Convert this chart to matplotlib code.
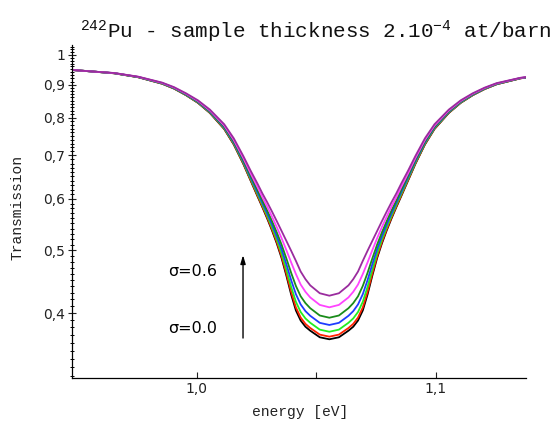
import matplotlib
matplotlib.use("Agg")
import matplotlib.pyplot as plt
from matplotlib.ticker import FixedLocator, FixedFormatter, NullFormatter

# ---- data ----
energy = [0.948, 0.9555, 0.9655, 0.9755, 0.9855, 0.9905, 0.9955, 1.0005, 1.0055, 1.0115,
          1.0155, 1.0195, 1.0225, 1.0255, 1.0275, 1.0295, 1.0315, 1.0335, 1.0355, 1.0375,
          1.0395, 1.0415, 1.0435, 1.0455, 1.0475, 1.0515,
          1.0555,
          1.0595, 1.0635, 1.0655, 1.0675, 1.0695, 1.0715, 1.0735, 1.0755, 1.0775, 1.0795,
          1.0815, 1.0835, 1.0855, 1.0885, 1.0915, 1.0955, 1.0995, 1.1055, 1.1105, 1.1155,
          1.1205, 1.1255, 1.1355, 1.1378]

t_sigma_00 = [0.948, 0.9435, 0.937, 0.924, 0.903, 0.8875, 0.867, 0.8437, 0.8139, 0.7687,
              0.7276, 0.6791, 0.6408, 0.6047, 0.5821, 0.5594, 0.5363, 0.5122, 0.4863, 0.4570,
              0.4274, 0.4037, 0.3895, 0.3810, 0.3757, 0.3670,
              0.3644,
              0.3670, 0.3757, 0.3810, 0.3895, 0.4037, 0.4274, 0.4570, 0.4863, 0.5122, 0.5363,
              0.5594, 0.5821, 0.6047, 0.6408, 0.6791, 0.7276, 0.7687, 0.8139, 0.8437, 0.8668,
              0.8860, 0.9012, 0.9204, 0.9226]
t_sigma_01 = [0.948, 0.9435, 0.937, 0.924, 0.903, 0.8875, 0.8672, 0.8441, 0.8145, 0.7695,
              0.7285, 0.6803, 0.6421, 0.6063, 0.5838, 0.5614, 0.5384, 0.5146, 0.4891, 0.4604,
              0.4314, 0.4080, 0.3936, 0.3849, 0.3793, 0.3705,
              0.3678,
              0.3705, 0.3793, 0.3849, 0.3936, 0.4080, 0.4314, 0.4604, 0.4891, 0.5146, 0.5384,
              0.5614, 0.5838, 0.6063, 0.6421, 0.6803, 0.7285, 0.7695, 0.8145, 0.8441, 0.8672,
              0.8860, 0.9012, 0.9204, 0.9226]
t_sigma_02 = [0.948, 0.9435, 0.9371, 0.9243, 0.9036, 0.8883, 0.8678, 0.8450, 0.8156, 0.7710,
              0.7304, 0.6824, 0.6447, 0.6095, 0.5871, 0.5650, 0.5426, 0.5193, 0.4945, 0.4669,
              0.4391, 0.4163, 0.4015, 0.3924, 0.3864, 0.3771,
              0.3743,
              0.3771, 0.3864, 0.3924, 0.4015, 0.4163, 0.4391, 0.4669, 0.4945, 0.5193, 0.5426,
              0.5650, 0.5871, 0.6095, 0.6447, 0.6824, 0.7304, 0.7710, 0.8156, 0.8450, 0.8678,
              0.8868, 0.9018, 0.9208, 0.9230]
t_sigma_03 = [0.948, 0.9435, 0.9373, 0.9246, 0.9042, 0.8889, 0.8688, 0.8462, 0.8171, 0.7730,
              0.7328, 0.6853, 0.6482, 0.6137, 0.5915, 0.5701, 0.5482, 0.5256, 0.5019, 0.4758,
              0.4497, 0.4277, 0.4124, 0.4027, 0.3961, 0.3863,
              0.3834,
              0.3863, 0.3961, 0.4027, 0.4124, 0.4277, 0.4497, 0.4758, 0.5019, 0.5256, 0.5482,
              0.5701, 0.5915, 0.6137, 0.6482, 0.6853, 0.7328, 0.7730, 0.8171, 0.8462, 0.8688,
              0.8874, 0.9024, 0.9210, 0.9232]
t_sigma_04 = [0.948, 0.9435, 0.9375, 0.9249, 0.9048, 0.8897, 0.8698, 0.8475, 0.8188, 0.7752,
              0.7355, 0.6886, 0.6520, 0.6183, 0.5964, 0.5757, 0.5544, 0.5326, 0.5100, 0.4857,
              0.4615, 0.4404, 0.4245, 0.4143, 0.4069, 0.3965,
              0.3934,
              0.3965, 0.4069, 0.4143, 0.4245, 0.4404, 0.4615, 0.4857, 0.5100, 0.5326, 0.5544,
              0.5757, 0.5964, 0.6183, 0.6520, 0.6886, 0.7355, 0.7752, 0.8188, 0.8475, 0.8698,
              0.8882, 0.9030, 0.9213, 0.9235]
t_sigma_05 = [0.948, 0.9435, 0.9377, 0.9254, 0.9056, 0.8908, 0.8713, 0.8493, 0.8211, 0.7784,
              0.7395, 0.6932, 0.6575, 0.6250, 0.6034, 0.5837, 0.5633, 0.5428, 0.5218, 0.5002,
              0.4789, 0.4594, 0.4426, 0.4313, 0.4228, 0.4117,
              0.4082,
              0.4117, 0.4228, 0.4313, 0.4426, 0.4594, 0.4789, 0.5002, 0.5218, 0.5428, 0.5633,
              0.5837, 0.6034, 0.6250, 0.6575, 0.6932, 0.7395, 0.7784, 0.8211, 0.8493, 0.8713,
              0.8893, 0.9038, 0.9218, 0.9240]
t_sigma_06 = [0.948, 0.9435, 0.9379, 0.9258, 0.9066, 0.8920, 0.8728, 0.8513, 0.8237, 0.7819,
              0.7438, 0.6984, 0.6637, 0.6325, 0.6114, 0.5927, 0.5735, 0.5543, 0.5353, 0.5169,
              0.4991, 0.4814, 0.4635, 0.4511, 0.4413, 0.4291,
              0.4254,
              0.4291, 0.4413, 0.4511, 0.4635, 0.4814, 0.4991, 0.5169, 0.5353, 0.5543, 0.5735,
              0.5927, 0.6114, 0.6325, 0.6637, 0.6984, 0.7438, 0.7819, 0.8237, 0.8513, 0.8728,
              0.8905, 0.9048, 0.9222, 0.9244]

series = [t_sigma_00, t_sigma_01, t_sigma_02, t_sigma_03, t_sigma_04, t_sigma_05, t_sigma_06]
colors = ["#000000", "#ff2200", "#22ee22", "#1f3cff", "#1a8c1a", "#ff44ff", "#9a2c9e"]

y_major = [0.4, 0.5, 0.6, 0.7, 0.8, 0.9, 1.0]
y_major_labels = ["0,4", "0,5", "0,6", "0,7", "0,8", "0,9", "1"]
x_major = [1.0, 1.05, 1.1]
x_major_labels = ["1,0", "", "1,1"]

title_text = r"$^{242}$Pu - sample thickness 2.10$^{-4}$ at/barn"

# ---- figure ----
plt.rcParams["mathtext.fontset"] = "custom"
plt.rcParams["mathtext.rm"] = "Liberation Mono"
plt.rcParams["mathtext.it"] = "Liberation Mono"
plt.rcParams["mathtext.default"] = "rm"

fig = plt.figure(figsize=(5.58, 4.28), dpi=100)
ax = fig.add_axes([72 / 558, 1 - 378 / 428, (526 - 72) / 558, (378 - 45) / 428])

for vals, col in zip(series, colors):
    ax.plot(energy, vals, color=col, lw=1.3, solid_joinstyle="round")

ax.set_yscale("log")
ax.set_xlim(0.9478, 1.1378)
ax.set_ylim(0.3176, 1.036)

ax.yaxis.set_major_locator(FixedLocator(y_major))
ax.yaxis.set_major_formatter(FixedFormatter(y_major_labels))
ax.yaxis.set_minor_locator(FixedLocator([v / 100 for v in range(32, 104)]))
ax.yaxis.set_minor_formatter(NullFormatter())
ax.xaxis.set_major_locator(FixedLocator(x_major))
ax.xaxis.set_major_formatter(FixedFormatter(x_major_labels))
ax.xaxis.set_minor_locator(FixedLocator([]))

ax.tick_params(axis="y", which="major", direction="inout", length=6, width=0.8,
               labelsize=10, pad=2, colors="#222222")
ax.tick_params(axis="y", which="minor", direction="inout", length=3, width=0.7)
ax.tick_params(axis="x", which="major", direction="in", length=4, width=0.8,
               labelsize=10, pad=3, colors="#222222")

for s in ["top", "right"]:
    ax.spines[s].set_visible(False)
for s in ["left", "bottom"]:
    ax.spines[s].set_linewidth(0.9)

fig.text(80 / 558, 1 - 38 / 428, title_text, family="Liberation Mono", fontsize=15,
         ha="left", va="baseline", color="#111111")
fig.text(300 / 558, 1 - 412 / 428, "energy [eV]", family="Liberation Mono", fontsize=10.5,
         ha="center", va="center", color="#222222")
fig.text(18 / 558, 1 - 207 / 428, "Transmission", family="Liberation Mono", fontsize=10.5,
         rotation=90, ha="center", va="center", color="#222222")

ax.text(0.2115, 0.32, "σ=0.6", transform=ax.transAxes, fontsize=11.5,
        ha="left", va="center", family="DejaVu Sans")
ax.text(0.2115, 0.1486, "σ=0.0", transform=ax.transAxes, fontsize=11.5,
        ha="left", va="center", family="DejaVu Sans")
ax.annotate("", xy=(0.3767, 0.369), xytext=(0.3767, 0.120), xycoords="axes fraction",
            textcoords="axes fraction",
            arrowprops=dict(arrowstyle="-|>,head_length=0.5,head_width=0.15",
                            color="black", lw=1.0, shrinkA=0, shrinkB=0))

fig.savefig("out.png", dpi=100)
